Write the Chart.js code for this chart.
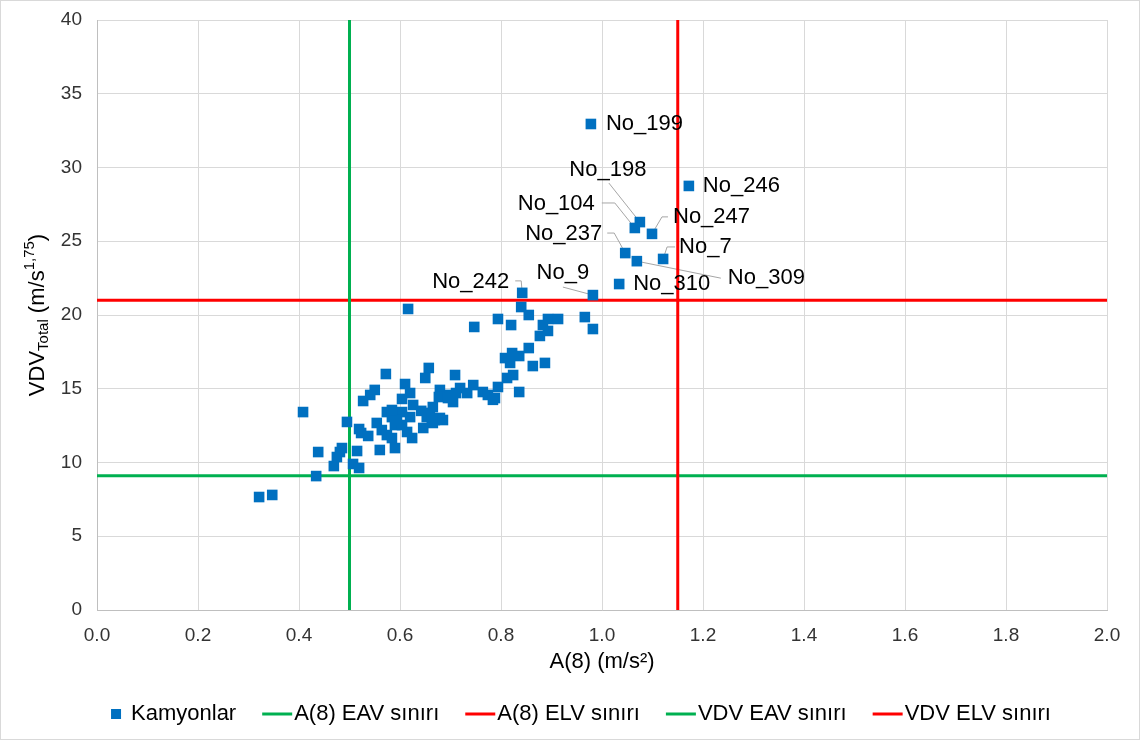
<!DOCTYPE html>
<html>
<head>
<meta charset="utf-8">
<script src="https://cdn.jsdelivr.net/npm/chart.js@4.4.0/dist/chart.umd.min.js"></script>
<style>
  html, body { margin: 0; padding: 0; background: #fff; }
  #wrap { width: 1140px; height: 740px; position: relative; }
</style>
</head>
<body>
<div id="wrap"><canvas id="c" width="1140" height="740"></canvas></div>
<script>
// trucks with a name tag on the chart
const namedIds = ['No_199', 'No_246', 'No_198', 'No_104', 'No_247', 'No_237', 'No_309', 'No_7', 'No_310', 'No_9', 'No_242'];
const namedA8  = [0.978, 1.172, 1.075, 1.065, 1.099, 1.046, 1.069, 1.121, 1.034, 0.982, 0.842];
const namedVdv = [32.95, 28.75, 26.30, 25.90, 25.50, 24.20, 23.65, 23.80, 22.10, 21.35, 21.50];

// the rest of the trucks
const otherA8 = [
  0.321, 0.347, 0.434, 0.408, 0.438, 0.469, 0.475, 0.485, 0.481, 0.495,
  0.507, 0.519, 0.515, 0.519, 0.523, 0.537, 0.527, 0.541, 0.550, 0.554,
  0.564, 0.574, 0.584, 0.590, 0.560, 0.574, 0.584, 0.590, 0.572, 0.604,
  0.610, 0.620, 0.626, 0.604, 0.620, 0.614, 0.624, 0.616, 0.604, 0.646,
  0.659, 0.665, 0.669, 0.653, 0.665, 0.679, 0.657, 0.650, 0.679, 0.677,
  0.699, 0.705, 0.709, 0.719, 0.733, 0.745, 0.764, 0.774, 0.788, 0.794,
  0.812, 0.824, 0.808, 0.822, 0.836, 0.818, 0.836, 0.855, 0.863, 0.887,
  0.877, 0.893, 0.883, 0.893, 0.913, 0.855, 0.840, 0.794, 0.820, 0.747,
  0.966, 0.982, 0.695, 0.711, 0.594, 0.685, 0.584, 0.663, 0.642, 0.784
];
const otherVdv = [
  7.66, 7.80, 9.08, 13.42, 10.71, 9.76, 10.37, 10.98, 10.71, 12.75,
  9.90, 9.63, 10.78, 12.27, 12.00, 11.80, 14.17, 14.58, 14.92, 12.68,
  12.20, 11.86, 11.66, 10.98, 10.85, 13.42, 13.08, 12.54, 16.00, 14.31,
  15.32, 14.71, 13.90, 13.42, 13.08, 12.07, 11.66, 20.41, 12.54, 12.34,
  13.36, 13.76, 12.88, 13.08, 12.68, 13.02, 16.41, 15.73, 14.92, 14.44,
  14.58, 14.10, 15.93, 15.05, 14.71, 15.25, 14.78, 14.58, 14.37, 15.12,
  15.73, 15.93, 17.08, 17.42, 17.22, 16.75, 14.78, 17.76, 16.54, 16.75,
  18.58, 18.92, 19.32, 19.73, 19.73, 20.00, 20.54, 19.73, 19.32, 19.19,
  19.86, 19.05, 14.37, 14.71, 12.88, 12.88, 13.56, 13.00, 13.50, 14.25
];

// limit values
const a8Eav = 0.5, a8Elv = 1.15;
const vdvEav = 9.1, vdvElv = 21;
const xRange = [0, 2], yRange = [0, 40];

const seriesNames = ['Kamyonlar', 'A(8) EAV sınırı', 'A(8) ELV sınırı', 'VDV EAV sınırı', 'VDV ELV sınırı'];
const xTitle = 'A(8) (m/s²)';

const BLUE = '#0070C0', GREEN = '#00B050', RED = '#FF0000';
const FONT = '"Liberation Sans", Arial, sans-serif';

// where each name tag sits relative to its point (px), and its leader line
const tagStyle = {
  'No_199': { dx: 15, dy: 0, align: 'left' },
  'No_246': { dx: 14, dy: 0, align: 'left' },
  'No_198': { dx: -32, dy: -52, align: 'center', leader: [[0, 0], [-31, -39]] },
  'No_104': { dx: -40, dy: -24, align: 'right', leader: [[-33, -25], [-20, -25], [0, 0]] },
  'No_247': { dx: 21, dy: -17, align: 'left', leader: [[0, 0], [10, -17], [16, -17]] },
  'No_237': { dx: -23, dy: -19, align: 'right', leader: [[-18, -20], [-11, -20], [0, 0]] },
  'No_309': { dx: 91, dy: 17, align: 'left', leader: [[0, 0], [84, 17]] },
  'No_7':   { dx: 16, dy: -12, align: 'left', leader: [[0, 0], [4, -12], [12, -12]] },
  'No_310': { dx: 14, dy: 0, align: 'left' },
  'No_9':   { dx: -30, dy: -22, align: 'center', leader: [[-30, -8], [0, 0]] },
  'No_242': { dx: -13, dy: -11, align: 'right', leader: [[-7, -12], [-1, -12], [0, 0]] }
};

const truckPts = namedA8.map((x, i) => ({ x, y: namedVdv[i], name: namedIds[i] }))
  .concat(otherA8.map((x, i) => ({ x, y: otherVdv[i], name: '' })));

const vLine = (x) => [{ x, y: yRange[0] }, { x, y: yRange[1] }];
const hLine = (y) => [{ x: xRange[0], y }, { x: xRange[1], y }];

const annotate = {
  id: 'annotate',
  beforeDraw(chart) {
    const ctx = chart.ctx;
    ctx.save();
    ctx.fillStyle = '#fff';
    ctx.fillRect(0, 0, chart.width, chart.height);
    ctx.restore();
  },
  beforeDatasetsDraw(chart) {
    const ctx = chart.ctx;
    const meta = chart.getDatasetMeta(0);
    ctx.save();
    ctx.strokeStyle = '#a6a6a6';
    ctx.lineWidth = 1;
    truckPts.forEach((p, i) => {
      const s = tagStyle[p.name];
      if (!s || !s.leader) return;
      const el = meta.data[i];
      ctx.beginPath();
      s.leader.forEach(([dx, dy], k) => {
        if (k === 0) ctx.moveTo(el.x + dx, el.y + dy);
        else ctx.lineTo(el.x + dx, el.y + dy);
      });
      ctx.stroke();
    });
    ctx.restore();
  },
  afterDatasetsDraw(chart) {
    const ctx = chart.ctx;
    const meta = chart.getDatasetMeta(0);
    ctx.save();
    ctx.fillStyle = '#000';
    ctx.font = '22px ' + FONT;
    ctx.textBaseline = 'middle';
    truckPts.forEach((p, i) => {
      const s = tagStyle[p.name];
      if (!s) return;
      const el = meta.data[i];
      ctx.textAlign = s.align;
      ctx.fillText(p.name, el.x + s.dx, el.y + s.dy);
    });
    ctx.restore();
  },
  afterDraw(chart) {
    const ctx = chart.ctx;
    const area = chart.chartArea;
    ctx.save();
    ctx.fillStyle = '#000';
    ctx.textBaseline = 'middle';

    // x title
    ctx.font = '22px ' + FONT;
    ctx.textAlign = 'center';
    ctx.fillText(xTitle, (area.left + area.right) / 2, 662);

    // y title with subscript and superscript
    const parts = [
      { t: 'VDV', f: 22, dy: 0 },
      { t: 'Total', f: 15, dy: 6 },
      { t: ' (m/s', f: 22, dy: 0 },
      { t: '1,75', f: 15, dy: -8 },
      { t: ')', f: 22, dy: 0 }
    ];
    let total = 0;
    parts.forEach(p => { ctx.font = p.f + 'px ' + FONT; p.w = ctx.measureText(p.t).width; total += p.w; });
    ctx.translate(38, (area.top + area.bottom) / 2);
    ctx.rotate(-Math.PI / 2);
    ctx.textAlign = 'left';
    let cx = -total / 2;
    parts.forEach(p => {
      ctx.font = p.f + 'px ' + FONT;
      ctx.fillText(p.t, cx, p.dy);
      cx += p.w;
    });
    ctx.setTransform(1, 0, 0, 1, 0, 0);

    // legend
    ctx.font = '22px ' + FONT;
    const items = chart.data.datasets.map(ds => ({
      text: ds.label,
      color: ds.borderColor || ds.backgroundColor,
      square: ds.type !== 'line',
      w: 0
    }));
    const gap = 26;
    let legendW = 0;
    items.forEach(it => {
      it.mark = it.square ? 20 : 32;
      it.w = it.mark + ctx.measureText(it.text).width;
      legendW += it.w;
    });
    legendW += gap * (items.length - 1);
    let lx = 581 - legendW / 2;
    const ly = 714;
    ctx.textAlign = 'left';
    items.forEach(it => {
      if (it.square) {
        ctx.fillStyle = it.color;
        ctx.fillRect(lx, ly - 5, 10, 10);
      } else {
        ctx.strokeStyle = it.color;
        ctx.lineWidth = 3;
        ctx.beginPath();
        ctx.moveTo(lx, ly);
        ctx.lineTo(lx + 30, ly);
        ctx.stroke();
      }
      ctx.fillStyle = '#000';
      ctx.fillText(it.text, lx + it.mark, ly);
      lx += it.w + gap;
    });

    // outer frame
    ctx.strokeStyle = '#d9d9d9';
    ctx.lineWidth = 1;
    ctx.strokeRect(0.5, 0.5, chart.width - 1, chart.height - 1);
    ctx.restore();
  }
};

const lineSet = (label, data, color) => ({
  type: 'line', label, data, borderColor: color, backgroundColor: color,
  borderWidth: 3, pointRadius: 0, pointHoverRadius: 0, fill: false, tension: 0
});

new Chart(document.getElementById('c'), {
  type: 'scatter',
  data: {
    datasets: [
      { label: seriesNames[0], data: truckPts, pointStyle: 'rect', pointRadius: 7.5, pointHoverRadius: 7.5,
        backgroundColor: BLUE, borderColor: BLUE, borderWidth: 0 },
      lineSet(seriesNames[1], vLine(a8Eav), GREEN),
      lineSet(seriesNames[2], vLine(a8Elv), RED),
      lineSet(seriesNames[3], hLine(vdvEav), GREEN),
      lineSet(seriesNames[4], hLine(vdvElv), RED)
    ]
  },
  options: {
    responsive: false,
    animation: false,
    devicePixelRatio: 1,
    layout: { padding: { top: 20, right: 33, bottom: 0, left: 0 } },
    plugins: { legend: { display: false }, tooltip: { enabled: false } },
    scales: {
      x: {
        type: 'linear', min: xRange[0], max: xRange[1],
        afterFit: (s) => { s.height = 130; s.paddingLeft = 0; s.paddingRight = 0; },
        grid: { color: '#d9d9d9', drawTicks: false },
        border: { color: '#bfbfbf' },
        ticks: { stepSize: 0.2, padding: 14, color: '#333', maxRotation: 0, font: { family: FONT, size: 19 },
          callback: (v) => v.toFixed(1) }
      },
      y: {
        type: 'linear', min: yRange[0], max: yRange[1],
        afterFit: (s) => { s.width = 97; s.paddingTop = 0; s.paddingBottom = 0; },
        grid: { color: '#d9d9d9', drawTicks: false },
        border: { color: '#bfbfbf' },
        ticks: { stepSize: 5, padding: 15, color: '#333', font: { family: FONT, size: 19 } }
      }
    }
  },
  plugins: [annotate]
});
</script>
</body>
</html>
